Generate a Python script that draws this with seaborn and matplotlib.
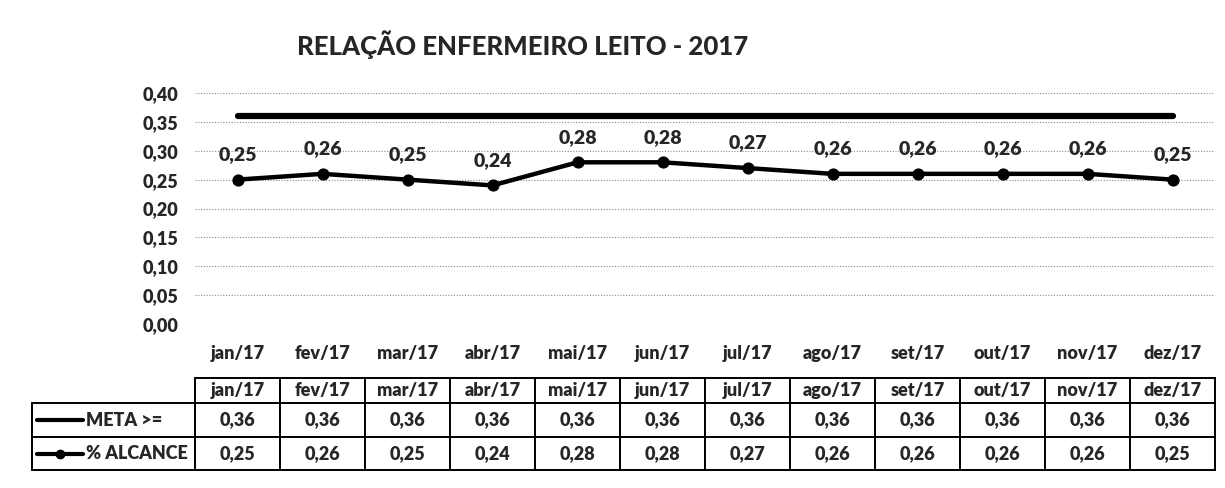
import matplotlib
matplotlib.use("Agg")
import matplotlib.pyplot as plt
import seaborn as sns
import pandas as pd
import numpy as np

months = ["jan/17", "fev/17", "mar/17", "abr/17", "mai/17", "jun/17",
          "jul/17", "ago/17", "set/17", "out/17", "nov/17", "dez/17"]
meta = [0.36] * 12
alcance = [0.25, 0.26, 0.25, 0.24, 0.28, 0.28, 0.27, 0.26, 0.26, 0.26, 0.26, 0.25]
yticks = [0.00, 0.05, 0.10, 0.15, 0.20, 0.25, 0.30, 0.35, 0.40]
title = "RELAÇÃO ENFERMEIRO LEITO - 2017"
row_labels = ["META >=", "% ALCANCE"]

def br(v):
    return f"{v:.2f}".replace(".", ",")

sns.set_theme(style="white")
FONT = ["Lato", "DejaVu Sans"]
plt.rcParams["font.family"] = FONT
plt.rcParams["font.weight"] = "bold"

df = pd.DataFrame({"mes": months, "pos": np.arange(len(months)),
                   "META": meta, "ALCANCE": alcance})

fig = plt.figure(figsize=(12.25, 4.88), dpi=100)
ax = fig.add_axes([195/1225, 1-324/488, 1020/1225, 231/488])

sns.lineplot(data=df, x="pos", y="META", ax=ax, color="black", lw=4.5)
sns.lineplot(data=df, x="pos", y="ALCANCE", ax=ax, color="black", lw=3.2,
             marker="o", markersize=8, markeredgecolor="black")

for x, v in zip(df["pos"], df["ALCANCE"]):
    ax.annotate(br(v), (x, v), xytext=(0, 18), textcoords="offset points",
                ha="center", va="center", fontsize=14, fontweight="heavy")

ax.set_xlim(-0.5, len(months) - 0.5)
ax.set_ylim(0, 0.40)
ax.set_yticks(yticks)
ax.set_yticklabels([br(v) for v in yticks], fontsize=13, fontweight="heavy")
ax.set_xticks(df["pos"])
ax.set_xticklabels(months, fontsize=13, fontweight="heavy")
ax.tick_params(axis="x", length=0, pad=15)
ax.tick_params(axis="y", length=0, pad=12)
ax.set_xlabel("")
ax.set_ylabel("")
for s in ax.spines.values():
    s.set_visible(False)
ax.yaxis.grid(True, linestyle=(0, (1, 1.5)), color="#8a8a8a", lw=0.8)
ax.set_axisbelow(True)

fig.text(523/1225, 1-45/488, title, ha="center", va="center",
         fontsize=18.5, fontweight="black")

# data table
cell_text = [[""] + months,
             [row_labels[0]] + [br(v) for v in meta],
             [row_labels[1]] + [br(v) for v in alcance]]
lab_w = 163
col_w = [lab_w] + [85] * 12
tot = sum(col_w)
tbl = ax.table(cellText=cell_text, colWidths=[w/tot for w in col_w],
               cellLoc="center",
               bbox=[(32-195)/1020, (324-470)/231, tot/1020, 92/231])
tbl.auto_set_font_size(False)
tbl.set_fontsize(13)
heights = [25, 34, 33]
for (r, c), cell in tbl.get_celld().items():
    cell.set_height(heights[r])
    cell.set_linewidth(1.4)
    cell.set_edgecolor("black")
    cell.get_text().set_fontweight("heavy")
    if r == 0 and c == 0:
        cell.visible_edges = "open"
    if c == 0 and r > 0:
        cell._loc = "left"
        cell.PAD = 54 / 163
        cell.get_text().set_ha("left")

# legend icons in row labels
x0, x1 = (37-195)/1020, (83-195)/1020
y1 = (324-420)/231
y2 = (324-453.5)/231
ax.plot([x0, x1], [y1, y1], transform=ax.transAxes, clip_on=False,
        color="black", lw=3)
ax.plot([x0, x1], [y2, y2], transform=ax.transAxes, clip_on=False,
        color="black", lw=3)
ax.plot([(x0+x1)/2], [y2], transform=ax.transAxes, clip_on=False,
        color="black", marker="o", markersize=6)

fig.savefig("out.png", dpi=100)
